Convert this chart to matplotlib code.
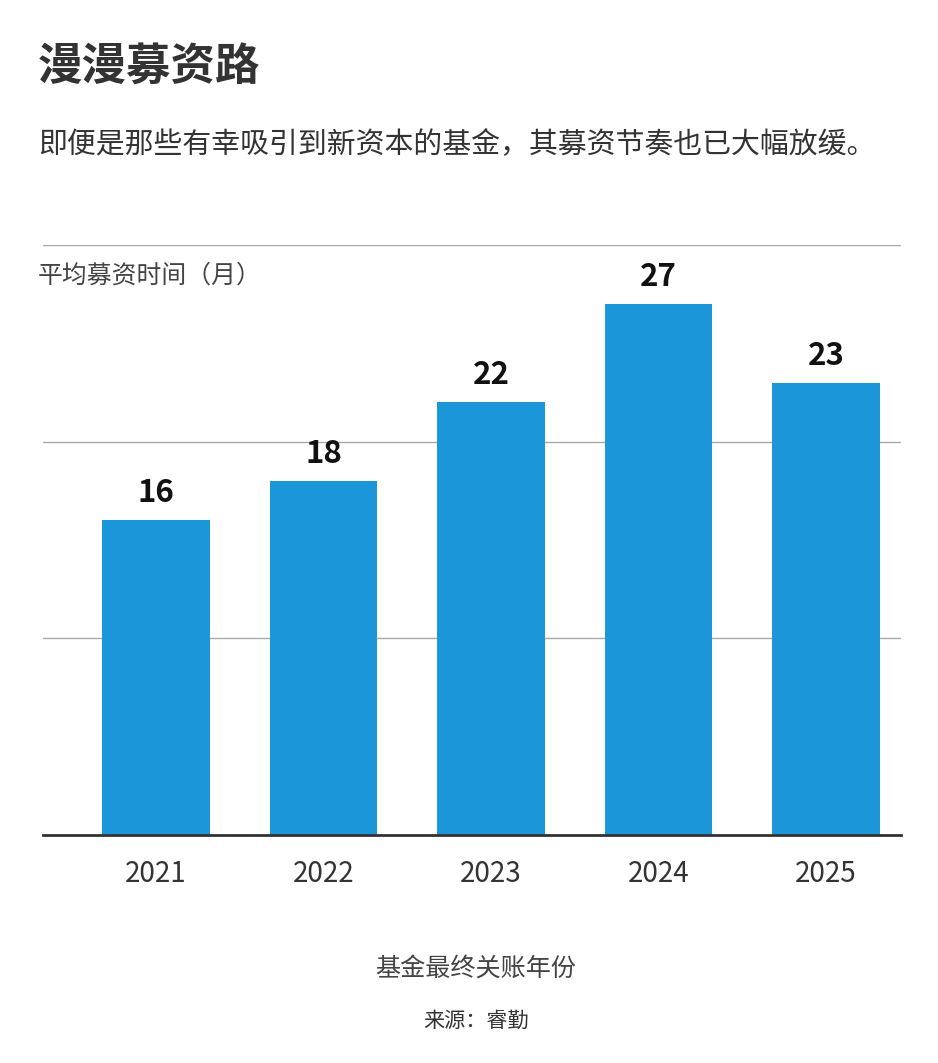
import matplotlib.pyplot as plt
import numpy as np

plt.rcParams['font.family'] = ['Noto Sans CJK SC', 'DejaVu Sans']

years = ['2021', '2022', '2023', '2024', '2025']
months = [16, 18, 22, 27, 23]

title = '漫漫募资路'
subtitle = '即便是那些有幸吸引到新资本的基金，其募资节奏也已大幅放缓。'
ylabel = '平均募资时间（月）'
xlabel = '基金最终关账年份'
source = '来源：睿勤'

W, H = 938, 1063
fig = plt.figure(figsize=(W / 100, H / 100), dpi=100)
ax = fig.add_axes([43 / W, (H - 835) / H, (901 - 43) / W, (835 - 245) / H])

x = np.arange(len(years))
ax.bar(x, months, width=0.64, color='#1b96d9', zorder=2)

ax.set_xlim(-0.675, 4.448)
ax.set_ylim(0, 30)
ax.set_yticks([10, 20, 30])
ax.yaxis.grid(True, color='#a8a8a8', linewidth=1, zorder=0)
ax.tick_params(axis='y', length=0, labelleft=False)
ax.set_xticks(x)
ax.set_xticklabels(years, fontsize=20, color='#333333')
ax.tick_params(axis='x', length=0, pad=17)
for s in ['top', 'right', 'left']:
    ax.spines[s].set_visible(False)
ax.spines['bottom'].set_color('#333333')
ax.spines['bottom'].set_linewidth(2)
ax.spines['bottom'].set_zorder(3)

# value labels above bars
for xi, v in zip(x, months):
    ax.annotate(str(v), (xi, v), xytext=(0, 19.5), textcoords='offset points',
                ha='center', va='center', fontsize=22.5, fontweight='bold',
                color='#111111')

fig.text(38 / W, 1 - 68 / H, title, fontsize=32, fontweight='bold',
         color='#333333', ha='left', va='center')
fig.text(38 / W, 1 - 145 / H, subtitle, fontsize=20.8, color='#333333',
         ha='left', va='center')
fig.text(38 / W, 1 - 276 / H, ylabel, fontsize=17.9, color='#444444',
         ha='left', va='center')
fig.text(476 / W, 1 - 969 / H, xlabel, fontsize=18.1, color='#444444',
         ha='center', va='center')
fig.text(476 / W, 1 - 1021 / H, source, fontsize=15.2, color='#333333',
         ha='center', va='center')

fig.savefig('out.png', dpi=100)
